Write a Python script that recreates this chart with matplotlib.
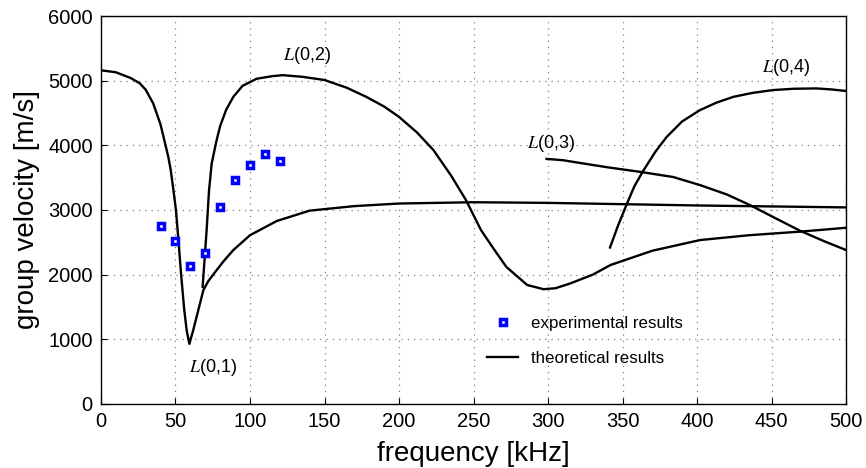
import numpy as np
import matplotlib
matplotlib.use("Agg")
import matplotlib.pyplot as plt

plt.rcParams["font.family"] = ["Liberation Sans", "DejaVu Sans"]
plt.rcParams["mathtext.fontset"] = "stix"

# experimental points
exp_freq = [40, 50, 60, 70, 80, 90, 100, 110, 120]
exp_vel = [2750, 2520, 2130, 2330, 3040, 3460, 3690, 3860, 3750]

# theoretical modes
l01_freq = [0, 10, 20, 26, 30, 35, 40, 45.2, 46.8, 48.6, 50.3, 52, 53.7, 55.9, 57.5, 59.3,
            61.9, 65.3, 68.7, 72, 77.6, 82, 88.8, 100, 118, 140, 170, 200, 250, 300, 350,
            400, 450, 500]
l01_vel = [5160, 5130, 5040, 4960, 4860, 4650, 4320, 3820, 3620, 3310, 3000, 2530, 2020,
           1450, 1140, 930, 1140, 1450, 1760, 1900, 2070, 2200, 2380, 2610, 2830, 2990, 3060,
           3100, 3120, 3110, 3090, 3070, 3055, 3040]

l02_freq = [68.2, 69.8, 70.9, 72.5, 74.3, 77.6, 80, 84, 88.8, 95, 104.5, 115, 122, 135, 150,
            165, 178, 190, 200, 212, 223, 235, 245, 255, 262, 272, 286, 297, 305, 315, 330,
            342, 370, 402, 435, 469, 500]
l02_vel = [1810, 2330, 2690, 3300, 3720, 4080, 4300, 4550, 4750, 4920, 5030, 5070, 5085,
           5060, 5010, 4890, 4750, 4600, 4440, 4200, 3930, 3530, 3150, 2690, 2450, 2120,
           1840, 1775, 1790, 1865, 2000, 2150, 2370, 2535, 2610, 2665, 2725]

l03_freq = [299, 310, 323.5, 340, 361.7, 384, 402, 420, 435.6, 452, 469, 485, 500]
l03_vel = [3790, 3770, 3720, 3660, 3590, 3510, 3385, 3240, 3075, 2880, 2680, 2520, 2380]

l04_freq = [341.6, 347, 352.8, 358, 364, 372, 379.6, 390, 402, 413, 424.4, 437, 451, 465,
            480, 490, 500]
l04_vel = [2420, 2760, 3090, 3370, 3610, 3900, 4130, 4370, 4545, 4660, 4750, 4810, 4855,
           4875, 4880, 4865, 4840]

mode_labels = ["$L$(0,1)", "$L$(0,2)", "$L$(0,3)", "$L$(0,4)"]
label_pos = [(75, 570), (138, 5390), (302, 4030), (460, 5200)]

fig = plt.figure(figsize=(8.66, 4.68), dpi=100)
ax = fig.add_axes([0.1166, 0.1368, 0.8604, 0.829])

ax.plot(l01_freq, l01_vel, color="black", lw=1.7, label="theoretical results")
ax.plot(l02_freq, l02_vel, color="black", lw=1.7)
ax.plot(l03_freq, l03_vel, color="black", lw=1.7)
ax.plot(l04_freq, l04_vel, color="black", lw=1.7)
ax.plot(exp_freq, exp_vel, "s", ms=3.8, mfc="white", mec="#0000ff", mew=2.5,
        label="experimental results")

for txt, (x, y) in zip(mode_labels, label_pos):
    ax.text(x, y, txt, fontsize=13, ha="center", va="center")

ax.set_xlim(0, 500)
ax.set_ylim(0, 6000)
ax.set_xticks(range(0, 501, 50))
ax.set_yticks(range(0, 6001, 1000))
ax.grid(True, color="gray", linestyle=(0, (1, 4)), linewidth=0.9)
ax.tick_params(direction="in", length=4, labelsize=14.5, pad=6)
for s in ax.spines.values():
    s.set_linewidth(1.0)

ax.set_xlabel("frequency [kHz]", fontsize=20, labelpad=7)
ax.set_ylabel("group velocity [m/s]", fontsize=20, labelpad=6)

handles, labels = ax.get_legend_handles_labels()
ax.legend(handles[::-1], labels[::-1], loc="upper left", bbox_to_anchor=(0.498, 0.265),
          frameon=False, fontsize=12.2, handlelength=1.8, labelspacing=1.15)

fig.savefig("out.png", dpi=100)
